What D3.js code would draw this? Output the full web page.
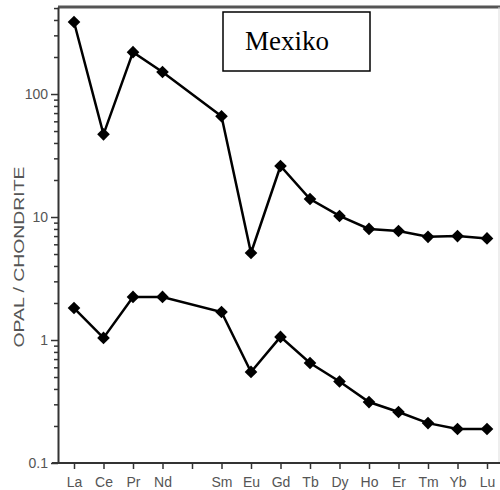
<!DOCTYPE html>
<html>
<head>
<meta charset="utf-8">
<script src="https://cdn.jsdelivr.net/npm/d3@7"></script>
<style>
  body { margin: 0; background: #fff; }
  svg { display: block; }
</style>
</head>
<body>
<div id="chart"></div>
<script>
// REE pattern, Mexiko opal, normalised to chondrite
var elements = ["La", "Ce", "Pr", "Nd", "Pm", "Sm", "Eu", "Gd", "Tb", "Dy", "Ho", "Er", "Tm", "Yb", "Lu"];
var tickLabels = ["La", "Ce", "Pr", "Nd", "", "Sm", "Eu", "Gd", "Tb", "Dy", "Ho", "Er", "Tm", "Yb", "Lu"];
var measured = ["La", "Ce", "Pr", "Nd", "Sm", "Eu", "Gd", "Tb", "Dy", "Ho", "Er", "Tm", "Yb", "Lu"];
var upperSeries = [385, 47, 219, 151, 66, 5.1, 26, 14, 10.2, 8.0, 7.7, 6.9, 7.0, 6.7];
var lowerSeries = [1.82, 1.04, 2.24, 2.24, 1.69, 0.55, 1.06, 0.65, 0.46, 0.313, 0.26, 0.211, 0.189, 0.189];
var yMajor = [0.1, 1, 10, 100];

var svgWidth = 500;
var svgHeight = 490;

var margin = { top: 7, right: 0, bottom: 27, left: 58 };
var height = svgHeight - margin.top - margin.bottom;

var svg = d3.select("#chart")
  .append("svg")
  .attr("width", svgWidth)
  .attr("height", svgHeight);

var x = d3.scalePoint()
  .domain(elements)
  .range([74, 487]);

var y = d3.scaleLog()
  .domain([0.1, 510])
  .range([svgHeight - margin.bottom, margin.top]);

// minor ticks 2..9 per decade
var yMinor = [];
yMajor.forEach(function(d) {
  for (var k = 2; k <= 9; k++) {
    if (d * k <= 510) yMinor.push(d * k);
  }
});

// frame: top line and faint right edge
svg.append("line")
  .attr("x1", margin.left).attr("x2", svgWidth)
  .attr("y1", margin.top).attr("y2", margin.top)
  .attr("stroke", "#555").attr("stroke-width", 3);
svg.append("line")
  .attr("x1", svgWidth - 1).attr("x2", svgWidth - 1)
  .attr("y1", margin.top).attr("y2", svgHeight - margin.bottom)
  .attr("stroke", "#ddd").attr("stroke-width", 1);

// y axis
var yAxisG = svg.append("g")
  .attr("transform", "translate(" + margin.left + ",0)");
yAxisG.append("g")
  .call(d3.axisLeft(y).tickValues(yMinor).tickSize(4).tickFormat(""))
  .call(g => g.select(".domain").remove());
yAxisG.append("g")
  .call(d3.axisLeft(y).tickValues(yMajor).tickSize(7).tickSizeOuter(0)
    .tickFormat(d => d < 1 ? "0.1" : d3.format("d")(d)));

// x axis
var xAxisG = svg.append("g")
  .attr("transform", "translate(0," + (svgHeight - margin.bottom) + ")")
  .call(d3.axisBottom(x).tickSize(6).tickSizeOuter(0)
    .tickFormat((d, i) => tickLabels[i]));
xAxisG.select(".domain")
  .attr("d", "M" + (margin.left - 6) + ",0H" + svgWidth);

svg.selectAll(".domain")
  .attr("stroke", "#333").attr("stroke-width", 2);
svg.selectAll(".tick line")
  .attr("stroke", "#333").attr("stroke-width", 1.5);
svg.selectAll(".tick text")
  .attr("fill", "#555")
  .attr("font-family", "Liberation Sans, Arial, sans-serif")
  .attr("font-size", "14px");
xAxisG.selectAll(".tick text").attr("dy", "1.05em");

// y title
svg.append("text")
  .attr("transform", "translate(24,257) rotate(-90)")
  .attr("text-anchor", "middle")
  .attr("font-family", "Liberation Sans, Arial, sans-serif")
  .attr("font-size", "15px")
  .attr("fill", "#555")
  .attr("textLength", 181)
  .attr("lengthAdjust", "spacingAndGlyphs")
  .text("OPAL / CHONDRITE");

// series
var line = d3.line()
  .x((d, i) => x(measured[i]))
  .y(d => y(d));

var diamond = d3.symbol().type(d3.symbolSquare).size(80);

[upperSeries, lowerSeries].forEach(function(series) {
  svg.append("path")
    .datum(series)
    .attr("d", line)
    .attr("fill", "none")
    .attr("stroke", "#000")
    .attr("stroke-width", 2.5);

  svg.append("g").selectAll("path")
    .data(series)
    .enter()
    .append("path")
    .attr("d", diamond)
    .attr("transform", (d, i) => "translate(" + x(measured[i]) + "," + y(d) + ") rotate(45)")
    .attr("fill", "#000");
});

// label box
svg.append("rect")
  .attr("x", 223).attr("y", 12)
  .attr("width", 147).attr("height", 59)
  .attr("fill", "#fff")
  .attr("stroke", "#000")
  .attr("stroke-width", 1.5);
svg.append("text")
  .attr("x", 245).attr("y", 50)
  .attr("font-family", "Liberation Serif, Times New Roman, serif")
  .attr("font-size", "27px")
  .attr("fill", "#000")
  .text("Mexiko");
</script>
</body>
</html>
